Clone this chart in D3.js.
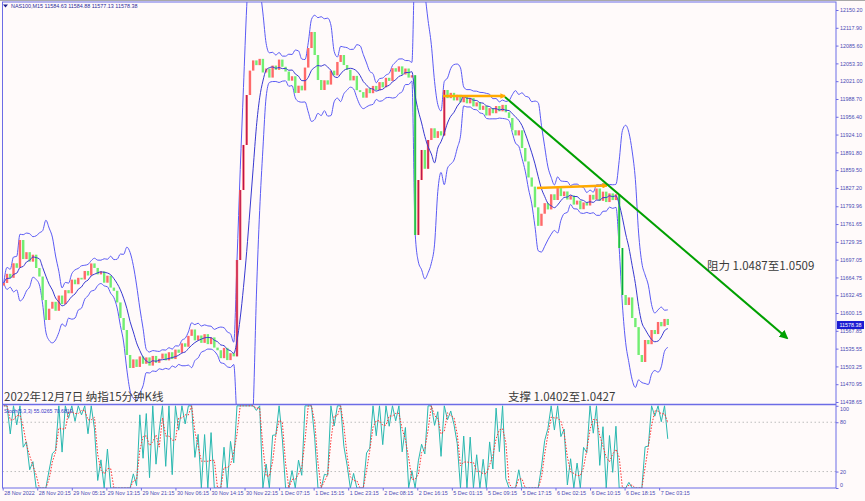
<!DOCTYPE html>
<html><head><meta charset="utf-8">
<script src="https://cdn.jsdelivr.net/npm/d3@7"></script>
<style>
html,body{margin:0;padding:0;background:#fffafa;}
svg{display:block}
</style></head>
<body>
<script>
// ---------- DATA ----------
const header = "NAS100,M15  11584.63 11584.88 11577.13 11578.38";
const stochHeader = "Stoch(5,3,3) 55.0265 70.6819";
const titleText = "2022年12月7日 纳指15分钟K线";
const supportText = "支撑 1.0402至1.0427";
const resistText = "阻力 1.0487至1.0509";

const priceTicks = [12150.20,12117.90,12085.60,12053.30,12021.00,11988.70,11956.40,11924.10,11891.80,11859.50,11827.20,11793.96,11761.65,11729.35,11697.05,11664.75,11632.45,11600.15,11567.85,11535.55,11503.25,11470.95,11438.65];
const stochTicks = [100,80,20,0];
const timeLabels = ["28 Nov 2022","28 Nov 20:15","29 Nov 05:15","29 Nov 13:15","29 Nov 21:15","30 Nov 06:15","30 Nov 14:15","30 Nov 22:15","1 Dec 07:15","1 Dec 15:15","1 Dec 23:15","2 Dec 08:15","2 Dec 16:15","5 Dec 01:15","5 Dec 09:15","5 Dec 17:15","6 Dec 02:15","6 Dec 10:15","6 Dec 18:15","7 Dec 03:15"];
const barsPerLabel = 32;   // 15-min bars between time labels
const barsPerCandle = 3;   // each drawn candle groups 3 bars

const firstOpen = 11650.0;
const closes = [
11654.7,11671.3,11664.0,11690.5,11682.2,11732.7,11698.1,11710.6,11693.4,11706.0,
11681.9,11666.4,11623.8,11587.5,11608.0,11620.5,11604.2,11631.9,11616.3,11641.7,
11636.0,11660.8,11652.4,11664.1,11661.0,11676.5,11668.3,11690.2,11682.0,11670.3,
11675.8,11655.2,11667.9,11646.3,11640.5,11619.4,11591.1,11569.3,11524.0,11500.4,
11516.0,11502.3,11521.4,11508.0,11519.6,11504.7,11522.3,11509.8,11517.1,11526.5,
11514.2,11529.0,11516.6,11533.8,11528.0,11545.2,11538.9,11558.7,11570.3,11550.6,
11559.4,11546.0,11561.8,11543.7,11555.9,11537.4,11532.6,11518.2,11536.9,11514.7,
11527.3,11521.5,11696.4,11823.5,11905.2,11995.9,12040.2,12058.7,12050.1,12061.5,
12036.8,12044.0,12027.5,12049.3,12041.6,12060.2,12047.1,12038.5,12021.9,12030.0,
11999.6,12012.8,12004.3,12045.7,12081.2,12110.3,12068.5,12023.1,12005.0,12022.6,
12014.8,12040.1,12031.5,12055.9,12068.5,12050.3,12041.7,12022.4,12030.6,12004.7,
12001.2,11991.0,12007.9,11999.2,12012.4,12004.6,12019.3,12009.8,12027.1,12021.5,
12044.6,12038.2,12047.9,12033.1,12044.0,12027.5,12031.8,11741.8,11841.6,11896.1,
11862.0,11914.2,11935.5,11918.0,11930.2,11922.4,12005.0,11990.2,11999.8,11986.1,
11996.3,11982.7,11993.5,11980.8,11990.4,11975.2,11982.6,11968.9,11976.4,11958.7,
11972.1,11962.8,11975.9,11966.3,11978.0,11964.5,11954.2,11932.0,11922.5,11931.8,
11899.7,11875.3,11846.2,11829.6,11792.0,11758.4,11780.4,11799.6,11788.2,11815.7,
11805.3,11826.9,11812.4,11820.8,11806.1,11813.5,11797.0,11804.2,11788.6,11800.9,
11795.3,11814.7,11806.0,11826.2,11803.8,11820.5,11801.6,11817.3,11805.2,11815.8,
11718.2,11632.9,11614.7,11628.5,11591.1,11574.6,11524.0,11511.3,11551.2,11543.6,
11569.3,11562.0,11583.9,11576.1,11589.4,11578.38
];
const lastPrice = 11578.38;

// annotations: [bar slot, price]
const trendLine = [[465.2, 11992.3],[726.4, 11554.8]];
const orangeLine1 = [[407.8, 11994.1],[465.2, 11994.1]];
const orangeLine2 = [[494.9, 11827.1],[559.7, 11831.6]];

// ---------- LAYOUT ----------
const W = 865, H = 501;
const L = 2.5, R = 836, T = 2, MB = 404.5, SB = 488;
const axisFont = "'Liberation Sans', Arial, sans-serif";
const svg = d3.select("body").append("svg").attr("width", W).attr("height", H)
  .style("font-family", axisFont);
svg.append("rect").attr("width", W).attr("height", H).attr("fill", "#fffafa");
svg.append("line").attr("x1",0).attr("x2",W).attr("y1",0.5).attr("y2",0.5).attr("stroke","#a8a8a8");

const x = d3.scaleLinear().domain([0, 772]).range([2.7, 836.2]);
const y = d3.scaleLinear().domain([11438.65, 12150.20]).range([402, 10]);
const ys = d3.scaleLinear().domain([0, 100]).range([488, 405.8]);

const defs = svg.append("defs");
defs.append("clipPath").attr("id","cmain").append("rect").attr("x",L).attr("y",T).attr("width",R-L).attr("height",MB-T);
defs.append("clipPath").attr("id","csto").append("rect").attr("x",L).attr("y",MB).attr("width",R-L).attr("height",SB-MB);
function marker(id, color, size){
  defs.append("marker").attr("id",id).attr("viewBox","0 0 10 10").attr("refX",8).attr("refY",5)
    .attr("markerWidth",size).attr("markerHeight",size).attr("orient","auto")
    .append("path").attr("d","M0,0 L10,5 L0,10 z").attr("fill",color);
}
marker("ag","#00a000",4.5);
marker("ao","#ffaa00",2.2);

// ---------- BARS ----------
const bars = closes.map((c,i)=>{
  const o = i===0 ? firstOpen : closes[i-1];
  return {slot: barsPerCandle*i+1, o, c, h: Math.max(o,c), l: Math.min(o,c)};
});

// Bollinger bands on the grouped candles
const P = 7, DEV = 2.4;
const bb = bars.map((b,i)=>{
  const w = closes.slice(Math.max(0,i-P+1), i+1);
  const m = d3.mean(w);
  const sd = Math.sqrt(d3.mean(w, v=>(v-m)*(v-m)));
  return {slot:b.slot, m, u:m+DEV*sd, d:m-DEV*sd};
});

// Stochastic on the grouped candles
const KP = 4, SL = 1, DP = 2;
const hh = bars.map((b,i)=>d3.max(bars.slice(Math.max(0,i-KP+1),i+1), v=>v.h));
const ll = bars.map((b,i)=>d3.min(bars.slice(Math.max(0,i-KP+1),i+1), v=>v.l));
const kv = bars.map((b,i)=>{
  let num=0, den=0;
  for(let j=Math.max(0,i-SL+1); j<=i; j++){ num += bars[j].c-ll[j]; den += hh[j]-ll[j]; }
  return den>0 ? num/den*100 : 50;
});
const dv = kv.map((v,i)=>d3.mean(kv.slice(Math.max(0,i-DP+1), i+1)));

// ---------- MAIN PANEL ----------
const gm = svg.append("g").attr("clip-path","url(#cmain)");
const bandLine = key => d3.line().x(d=>x(d.slot)).y(d=>y(d[key])).curve(d3.curveMonotoneX);
gm.append("path").datum(bb).attr("d", bandLine("u")).attr("fill","none").attr("stroke","#5a5af4").attr("stroke-width",1);
gm.append("path").datum(bb).attr("d", bandLine("d")).attr("fill","none").attr("stroke","#5a5af4").attr("stroke-width",1);

const cg = gm.append("g");
cg.selectAll("rect").data(bars).join("rect")
  .attr("x", d=>x(d.slot)-1.2).attr("width", 2.4)
  .attr("y", d=>y(d.h)).attr("height", d=>Math.max(1, y(d.l)-y(d.h)))
  .attr("fill", d=> d.c>=d.o ? "#ff6a6a" : "#72ee72");
cg.selectAll("line").data(bars.filter(d=>y(d.l)-y(d.h)>28)).join("line")
  .attr("x1", d=>x(d.slot)).attr("x2", d=>x(d.slot))
  .attr("y1", d=>y(d.h)).attr("y2", d=>y(d.l))
  .attr("stroke", d=> d.c>=d.o ? "#b0104e" : "#00a040").attr("stroke-width",1);

gm.append("path").datum(bb).attr("d", bandLine("m")).attr("fill","none").attr("stroke","#3838d0").attr("stroke-width",1);

// annotations
const pl = d3.line().x(d=>x(d[0])).y(d=>y(d[1]));
gm.append("path").datum(orangeLine1).attr("d",pl).attr("stroke","#ffaa00").attr("stroke-width",2.6).attr("fill","none").attr("marker-end","url(#ao)");
gm.append("path").datum(orangeLine2).attr("d",pl).attr("stroke","#ffaa00").attr("stroke-width",2.6).attr("fill","none").attr("marker-end","url(#ao)");
gm.append("path").datum(trendLine).attr("d",pl).attr("stroke","#00a000").attr("stroke-width",2).attr("fill","none").attr("marker-end","url(#ag)");

// header
svg.append("path").attr("d","M3,4.5 L8,4.5 L5.5,7.5 z").attr("fill","#1e1e8c");
svg.append("text").attr("x",11).attr("y",8.3).attr("font-size","5.4px").attr("fill","#2a2a9a").text(header);

// texts
const cjk = "'Noto Sans CJK SC', sans-serif";
svg.append("text").attr("x",4).attr("y",400.5).attr("font-family",cjk).attr("font-size","11.5px").attr("fill","#3a3a3a").text(titleText);
svg.append("text").attr("x",508).attr("y",400.5).attr("font-family",cjk).attr("font-size","11.5px").attr("fill","#3a3a3a").text(supportText);
svg.append("text").attr("x",707).attr("y",269.5).attr("font-family",cjk).attr("font-size","11.5px").attr("fill","#3a3a3a").text(resistText);

// ---------- STOCH PANEL ----------
const gs = svg.append("g").attr("clip-path","url(#csto)");
[80,20].forEach(v=>{
  gs.append("line").attr("x1",L).attr("x2",R).attr("y1",ys(v)).attr("y2",ys(v))
    .attr("stroke","#bdbdbd").attr("stroke-dasharray","1.5,2.5");
});
const sl = arr => d3.line().x((d,i)=>x(bars[i].slot)).y(d=>ys(d))(arr);
gs.append("path").attr("d", sl(kv)).attr("fill","none").attr("stroke","#2ab8b0").attr("stroke-width",1);
gs.append("path").attr("d", sl(dv)).attr("fill","none").attr("stroke","#ff3030").attr("stroke-width",1).attr("stroke-dasharray","1.5,1.5");
svg.append("text").attr("x",4).attr("y",413).attr("font-size","5.2px").attr("fill","#3838c8").text(stochHeader);

// ---------- FRAME & AXES ----------
const frameColor = "#6c6ce6", textColor = "#4a4ab4";
svg.append("rect").attr("x",L).attr("y",T).attr("width",R-L).attr("height",SB-T).attr("fill","none").attr("stroke",frameColor).attr("stroke-width",1);
svg.append("line").attr("x1",L).attr("x2",R).attr("y1",MB).attr("y2",MB).attr("stroke",frameColor).attr("stroke-width",1.5);

const ay = svg.append("g").attr("transform",`translate(${R},0)`)
  .call(d3.axisRight(y).tickValues(priceTicks).tickFormat(d=>d.toFixed(2)).tickSize(2.5).tickPadding(1.5));
ay.select(".domain").remove();
ay.selectAll("line").attr("stroke",frameColor);
ay.selectAll("text").attr("font-size","5.4px").attr("fill",textColor).attr("font-family",axisFont);

// last price box
const ly = y(lastPrice);
svg.append("rect").attr("x",R+1).attr("y",ly-4).attr("width",W-R-2).attr("height",8).attr("fill","#1c1cd2");
svg.append("text").attr("x",R+3.5).attr("y",ly).attr("dy","0.35em").attr("font-size","5.4px").attr("fill","#ffffff").text(lastPrice.toFixed(2));

const as = svg.append("g").attr("transform",`translate(${R},0)`)
  .call(d3.axisRight(ys).tickValues(stochTicks).tickFormat(d3.format("d")).tickSize(2.5).tickPadding(1.5));
as.select(".domain").remove();
as.selectAll("line").attr("stroke",frameColor);
as.selectAll("text").attr("font-size","5.4px").attr("fill",textColor).attr("font-family",axisFont)
  .attr("dy", d=> d===100 ? "0.9em" : d===0 ? "-0.2em" : "0.32em");

const timeSlots = timeLabels.map((t,i)=>i*barsPerLabel);
const ax = svg.append("g").attr("transform",`translate(0,${SB})`)
  .call(d3.axisBottom(x).tickValues(timeSlots).tickFormat((d,i)=>timeLabels[i]).tickSize(2.5).tickPadding(0.5));
ax.select(".domain").remove();
ax.selectAll("line").attr("stroke",frameColor);
ax.selectAll("text").attr("font-size","5.4px").attr("fill",textColor).attr("text-anchor","start").attr("dx","1")
  .attr("font-family",axisFont);
</script>
</body></html>
